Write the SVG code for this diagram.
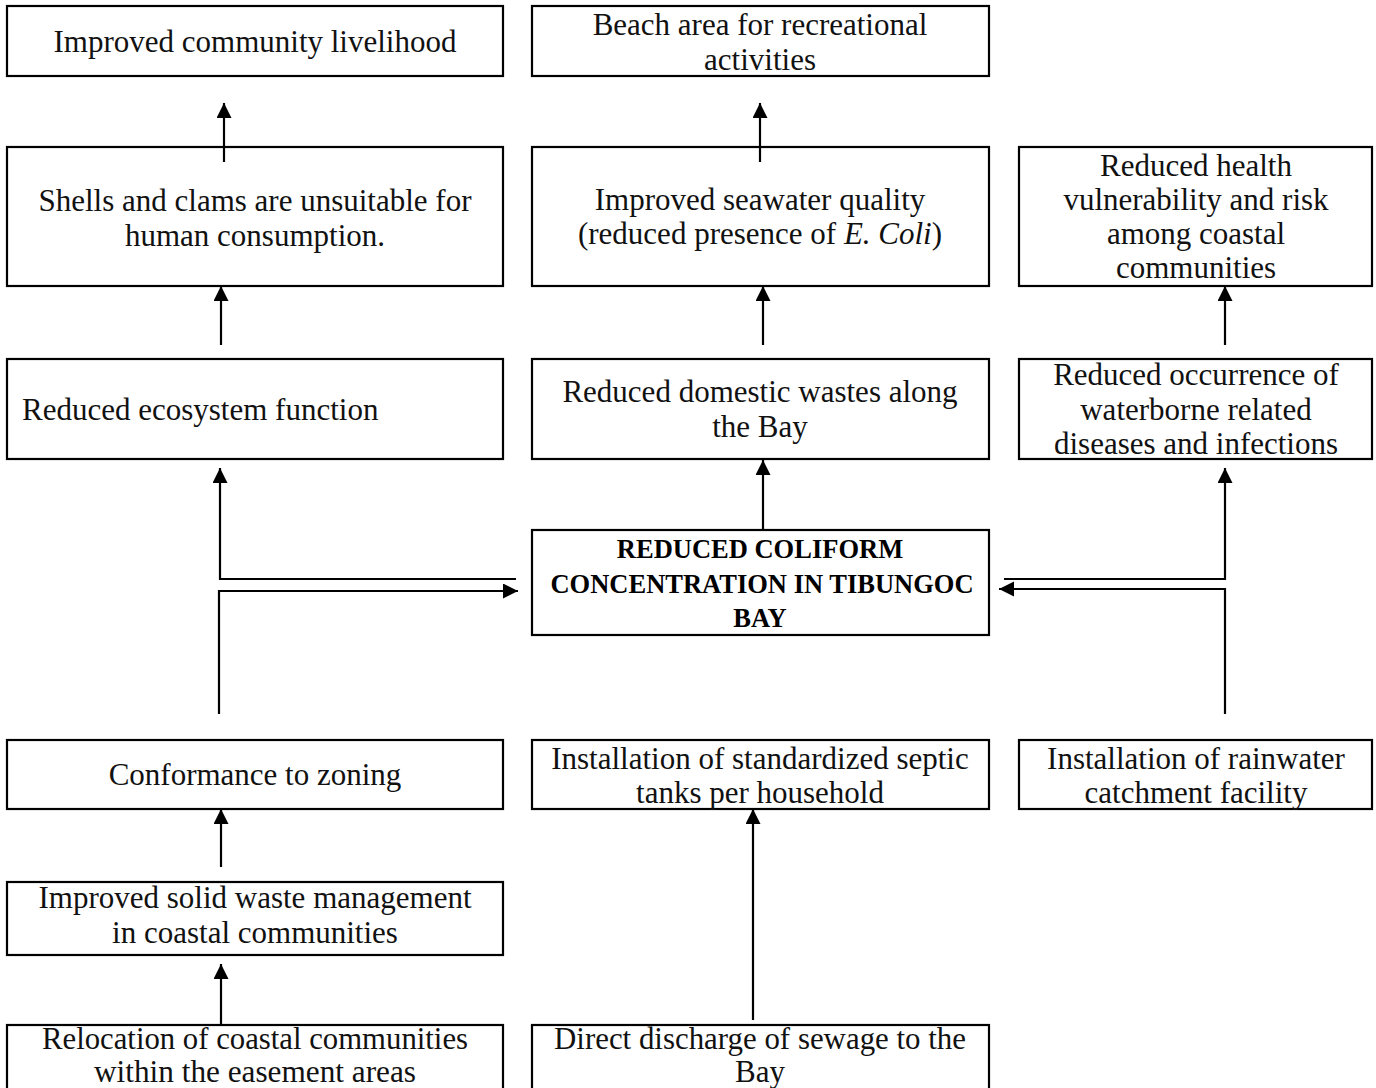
<svg xmlns="http://www.w3.org/2000/svg" width="1376" height="1088" viewBox="0 0 1376 1088">
<style>
.box{fill:#fff;stroke:#000;stroke-width:2.2}
.t{font-family:"Liberation Serif","Times New Roman",serif;font-size:31px;fill:#111;text-anchor:middle}
.s{font-family:"Liberation Serif","Times New Roman",serif;font-size:31px;fill:#111;text-anchor:start}
.b{font-family:"Liberation Serif","Times New Roman",serif;font-size:26.5px;font-weight:bold;fill:#000;text-anchor:middle}
.c{font-family:"Liberation Serif","Times New Roman",serif;font-size:31px;fill:#111;text-anchor:middle}
.ln{fill:none;stroke:#000;stroke-width:2.2}
</style>
<defs>
<marker id="ah" markerUnits="userSpaceOnUse" markerWidth="16" markerHeight="16" refX="15" refY="7.5" orient="auto">
<path d="M0,0 L15,7.5 L0,15 z" fill="#000"/>
</marker>
</defs>
<rect width="1376" height="1088" fill="#fff"/>

<g id="n-livelihood">
<rect class="box" x="7" y="6" width="496" height="70"/>
<text class="t" x="255" y="52">Improved community livelihood</text>
</g>
<g id="n-beach">
<rect class="box" x="532" y="6" width="457" height="70"/>
<text class="t" x="760" y="35">Beach area for recreational</text>
<text class="t" x="760" y="70">activities</text>
</g>
<g id="n-shells">
<rect class="box" x="7" y="147" width="496" height="139"/>
<text class="t" x="255" y="211">Shells and clams are unsuitable for</text>
<text class="t" x="255" y="246">human consumption.</text>
</g>
<g id="n-seawater">
<rect class="box" x="532" y="147" width="457" height="139"/>
<text class="t" x="760" y="210">Improved seawater quality</text>
<text class="t" x="760" y="244">(reduced presence of <tspan font-style="italic">E. Coli</tspan>)</text>
</g>
<g id="n-health">
<rect class="box" x="1019" y="147" width="353" height="139"/>
<text class="t" x="1196" y="176">Reduced health</text>
<text class="t" x="1196" y="210">vulnerability and risk</text>
<text class="t" x="1196" y="244">among coastal</text>
<text class="t" x="1196" y="278">communities</text>
</g>
<g id="n-ecosystem">
<rect class="box" x="7" y="359" width="496" height="100"/>
<text class="s" x="22" y="420">Reduced ecosystem function</text>
</g>
<g id="n-domestic">
<rect class="box" x="532" y="359" width="457" height="100"/>
<text class="t" x="760" y="402">Reduced domestic wastes along</text>
<text class="t" x="760" y="437">the Bay</text>
</g>
<g id="n-waterborne">
<rect class="box" x="1019" y="359" width="353" height="100"/>
<text class="t" x="1196" y="385">Reduced occurrence of</text>
<text class="t" x="1196" y="420">waterborne related</text>
<text class="t" x="1196" y="454">diseases and infections</text>
</g>
<g id="n-center">
<rect class="box" x="532" y="530" width="457" height="105"/>
<text class="b" x="760" y="558">REDUCED COLIFORM</text>
<text class="b" x="762" y="593">CONCENTRATION IN TIBUNGOC</text>
<text class="b" x="760" y="627">BAY</text>
</g>
<g id="n-zoning">
<rect class="box" x="7" y="740" width="496" height="69"/>
<text class="t" x="255" y="785">Conformance to zoning</text>
</g>
<g id="n-septic">
<rect class="box" x="532" y="740" width="457" height="69"/>
<text class="t" x="760" y="769">Installation of standardized septic</text>
<text class="t" x="760" y="803">tanks per household</text>
</g>
<g id="n-rainwater">
<rect class="box" x="1019" y="740" width="353" height="69"/>
<text class="t" x="1196" y="769">Installation of rainwater</text>
<text class="t" x="1196" y="803">catchment facility</text>
</g>
<g id="n-solidwaste">
<rect class="box" x="7" y="882" width="496" height="73"/>
<text class="t" x="255" y="908">Improved solid waste management</text>
<text class="t" x="255" y="943">in coastal communities</text>
</g>
<g id="n-relocation">
<rect class="box" x="7" y="1025" width="496" height="80"/>
<text class="c" x="255" y="1049" textLength="426" lengthAdjust="spacingAndGlyphs">Relocation of coastal communities</text>
<text class="c" x="255" y="1082" textLength="322" lengthAdjust="spacingAndGlyphs">within the easement areas</text>
</g>
<g id="n-sewage">
<rect class="box" x="532" y="1025" width="457" height="80"/>
<text class="c" x="760" y="1049" textLength="412" lengthAdjust="spacingAndGlyphs">Direct discharge of sewage to the</text>
<text class="c" x="760" y="1082" textLength="50" lengthAdjust="spacingAndGlyphs">Bay</text>
</g>

<g id="connectors">
<path class="ln" d="M224,162 V103" marker-end="url(#ah)"/>
<path class="ln" d="M760,162 V103" marker-end="url(#ah)"/>
<path class="ln" d="M221,345 V286" marker-end="url(#ah)"/>
<path class="ln" d="M763,345 V286" marker-end="url(#ah)"/>
<path class="ln" d="M1225,345 V286" marker-end="url(#ah)"/>
<path class="ln" d="M763,530 V460" marker-end="url(#ah)"/>
<path class="ln" d="M516,579 H220 V468" marker-end="url(#ah)"/>
<path class="ln" d="M219,714 V591 H518" marker-end="url(#ah)"/>
<path class="ln" d="M1004,579 H1225 V468" marker-end="url(#ah)"/>
<path class="ln" d="M1225,714 V589 H999" marker-end="url(#ah)"/>
<path class="ln" d="M221,867 V809" marker-end="url(#ah)"/>
<path class="ln" d="M221,1024 V964" marker-end="url(#ah)"/>
<path class="ln" d="M753,1020 V809" marker-end="url(#ah)"/>
</g>
</svg>
